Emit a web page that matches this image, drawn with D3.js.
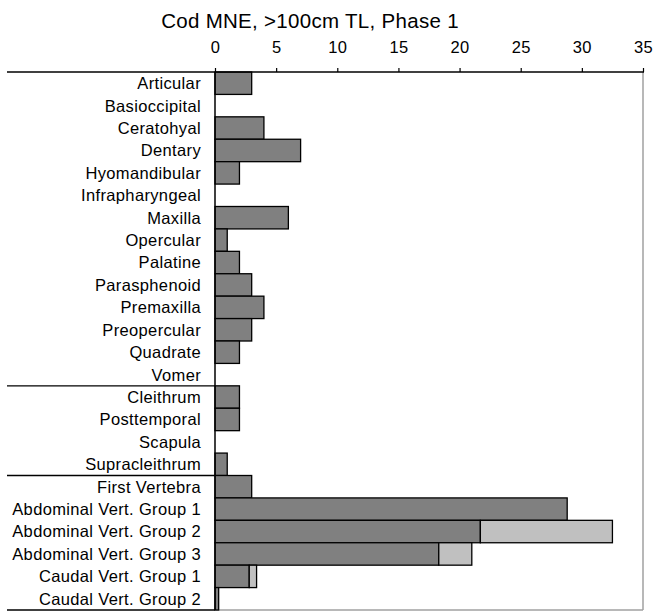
<!DOCTYPE html>
<html><head><meta charset="utf-8">
<script src="https://cdn.jsdelivr.net/npm/d3@7"></script>
<style>body{margin:0;background:#fff}svg{display:block}text{font-family:"Liberation Sans",Arial,sans-serif;fill:#000}</style>
</head><body>
<script>
const categories = ["Articular","Basioccipital","Ceratohyal","Dentary","Hyomandibular","Infrapharyngeal","Maxilla","Opercular","Palatine","Parasphenoid","Premaxilla","Preopercular","Quadrate","Vomer","Cleithrum","Posttemporal","Scapula","Supracleithrum","First Vertebra","Abdominal Vert. Group 1","Abdominal Vert. Group 2","Abdominal Vert. Group 3","Caudal Vert. Group 1","Caudal Vert. Group 2"];
const darkValues = [3,0,4,7,2,0,6,1,2,3,4,3,2,0,2,2,0,1,3,28.8,21.7,18.3,2.8,0.3];
const lightValues = [0,0,0,0,0,0,0,0,0,0,0,0,0,0,0,0,0,0,0,0,10.8,2.7,0.6,0];
const xTicks = [0,5,10,15,20,25,30,35];
const groupBreaks = ["Cleithrum","First Vertebra"];
const title = "Cod MNE, >100cm TL, Phase 1";

(function () {
const W = 653, H = 612;
const mLeft = 215, mRight = 643, mTop = 72, mBottom = 610, labelLeft = 7;
const fs = 16.5, ls = "0.35px";

const svg = d3.select("body").append("svg").attr("width", W).attr("height", H);
const x = d3.scaleLinear().domain([0, 35]).range([mLeft, mRight]);
const y = d3.scaleBand().domain(categories).range([mTop, mBottom]).padding(0);

// plot border (gray right & bottom)
svg.append("line").attr("x1", mRight).attr("x2", mRight).attr("y1", mTop).attr("y2", mBottom).attr("stroke", "#a0a0a0").attr("stroke-width", 1.5);
svg.append("line").attr("x1", mLeft).attr("x2", mRight).attr("y1", mBottom).attr("y2", mBottom).attr("stroke", "#a0a0a0").attr("stroke-width", 1.5);

const rows = categories.map((c, i) => ({c, d: darkValues[i], l: lightValues[i]}));
svg.append("g").selectAll("rect").data(rows.filter(r => r.d > 0)).join("rect")
  .attr("x", x(0)).attr("y", r => y(r.c)).attr("width", r => x(r.d) - x(0)).attr("height", y.bandwidth())
  .attr("fill", "#808080").attr("stroke", "#000").attr("stroke-width", 1.3);
svg.append("g").selectAll("rect").data(rows.filter(r => r.l > 0)).join("rect")
  .attr("x", r => x(r.d)).attr("y", r => y(r.c)).attr("width", r => x(r.d + r.l) - x(r.d)).attr("height", y.bandwidth())
  .attr("fill", "#c0c0c0").attr("stroke", "#000").attr("stroke-width", 1.3);

// top axis
const ax = svg.append("g").attr("transform", `translate(0,${mTop})`)
  .call(d3.axisTop(x).tickValues(xTicks).tickSize(4).tickPadding(15).tickFormat(d3.format("d")));
ax.select(".domain").remove();
ax.selectAll("line").attr("stroke", "#000").attr("stroke-width", 1.2);
ax.selectAll("text").attr("font-size", fs).style("letter-spacing", ls).style("font-family", "Liberation Sans, Arial, sans-serif");
svg.append("line").attr("x1", labelLeft).attr("x2", mRight + 1).attr("y1", mTop).attr("y2", mTop).attr("stroke", "#000").attr("stroke-width", 1.5);

// left axis line
svg.append("line").attr("x1", mLeft).attr("x2", mLeft).attr("y1", mTop).attr("y2", mBottom).attr("stroke", "#000").attr("stroke-width", 1.5);

// group separators
groupBreaks.forEach(c => {
  svg.append("line").attr("x1", labelLeft).attr("x2", mLeft).attr("y1", y(c)).attr("y2", y(c)).attr("stroke", "#000").attr("stroke-width", 1.3);
});
svg.append("line").attr("x1", labelLeft).attr("x2", mLeft).attr("y1", mBottom).attr("y2", mBottom).attr("stroke", "#000").attr("stroke-width", 1.3);

// category labels
svg.append("g").selectAll("text").data(categories).join("text")
  .attr("x", mLeft - 14).attr("y", c => y(c) + y.bandwidth() / 2).attr("dy", "0.36em")
  .attr("text-anchor", "end").attr("font-size", fs).style("letter-spacing", ls).text(c => c);

// title
svg.append("text").attr("x", 310).attr("y", 28).attr("text-anchor", "middle").attr("font-size", 20.5).style("letter-spacing", "0.3px").text(title);
})();
</script>
</body></html>
